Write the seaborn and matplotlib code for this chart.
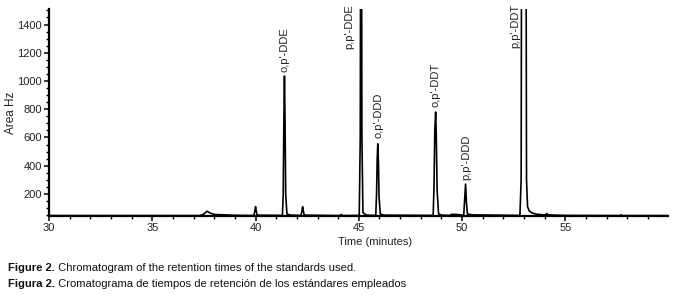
import matplotlib
matplotlib.use("Agg")
import matplotlib.pyplot as plt
from matplotlib.ticker import MultipleLocator, FixedLocator
import seaborn as sns
import pandas as pd

# ---- data (time in minutes, signal in Area Hz) ----
time_min = [30.0, 37.3, 37.5, 37.65, 37.8, 38.0, 38.5, 39.0, 39.5,
            39.92, 39.96, 40.0, 40.04, 40.08,
            41.30, 41.34, 41.37, 41.40, 41.43, 41.46, 41.52, 41.7,
            42.20, 42.24, 42.28, 42.32, 42.36,
            44.1, 44.15, 44.2,
            45.02, 45.07, 45.11, 45.15, 45.2, 45.3, 45.4,
            45.82, 45.86, 45.89, 45.92, 45.95, 45.98, 46.04, 46.2,
            48.60, 48.64, 48.68, 48.72, 48.75, 48.79, 48.86, 49.0,
            49.4, 49.5, 49.7, 49.9,
            50.08, 50.12, 50.17, 50.21, 50.26, 50.5,
            52.80, 52.86, 52.90, 53.07, 53.12, 53.17, 53.25, 53.4, 53.6, 53.9,
            54.05, 54.1, 54.15, 55.0,
            57.65, 57.7, 57.75, 60.0]
signal_hz = [47, 47, 58, 78, 65, 55, 52, 49, 48,
             48, 75, 110, 75, 50,
             48, 200, 700, 1035, 700, 200, 58, 50,
             48, 75, 110, 75, 50,
             47, 55, 47,
             48, 600, 4000, 600, 70, 55, 50,
             48, 200, 450, 555, 430, 180, 58, 50,
             48, 250, 650, 780, 620, 230, 60, 50,
             48, 56, 55, 52,
             50, 150, 270, 140, 58, 52,
             48, 300, 4000, 4000, 300, 110, 80, 65, 57, 52,
             52, 62, 52, 48,
             47, 52, 47, 47]

peak_names = ["o,p'-DDE", "p,p'-DDE", "o,p'-DDD", "o,p'-DDT", "p,p'-DDD", "p,p'-DDT"]
label_time = [41.42, 44.55, 45.93, 48.73, 50.18, 52.58]
label_level = [1065, 1225, 595, 815, 300, 1235]

x_major_ticks = [30, 35, 40, 45, 50, 55]
y_major_ticks = [200, 400, 600, 800, 1000, 1200, 1400]

caption_bold = ["Figure 2.", "Figura 2."]
caption_text = [" Chromatogram of the retention times of the standards used.",
                " Cromatograma de tiempos de retención de los estándares empleados"]

# ---- styling ----
sns.set_style("ticks")
FONT = ["Liberation Sans", "DejaVu Sans"]
plt.rcParams["font.family"] = FONT

fig = plt.figure(figsize=(6.73, 2.95), dpi=100)
ax = fig.add_axes([49 / 673, 1 - 216 / 295, 619 / 673, 207 / 295])

df = pd.DataFrame({"Time (minutes)": time_min, "Area Hz": signal_hz})
sns.lineplot(data=df, x="Time (minutes)", y="Area Hz", ax=ax,
             color="black", linewidth=1.2, estimator=None, sort=False)

ax.set_xlim(30, 59.97)
ax.set_ylim(44, 1510)

ax.xaxis.set_major_locator(FixedLocator(x_major_ticks))
ax.xaxis.set_minor_locator(MultipleLocator(1))
ax.yaxis.set_major_locator(FixedLocator(y_major_ticks))
ax.yaxis.set_minor_locator(MultipleLocator(50))

ax.tick_params(axis="both", which="major", length=3.5, width=1.1,
               labelsize=8, pad=1.5, color="black", labelcolor="#222222")
ax.tick_params(axis="both", which="minor", length=2, width=1.0, color="black")

for s in ["top", "right"]:
    ax.spines[s].set_visible(False)
for s in ["left", "bottom"]:
    ax.spines[s].set_linewidth(1.6)
    ax.spines[s].set_color("black")

ax.set_xlabel("Time (minutes)", fontsize=8, color="#222222", labelpad=2)
ax.xaxis.set_label_coords((375 - 49) / 619, -0.1)
ax.set_ylabel("Area Hz", fontsize=8.5, color="#222222", labelpad=2)
ax.yaxis.set_label_coords(-0.051, 0.5)

for name, t, lev in zip(peak_names, label_time, label_level):
    ax.text(t, lev, name, rotation=90, ha="center", va="bottom",
            fontsize=8, color="#222222", clip_on=False)

# ---- captions (bold lead + regular text) ----
renderer = fig.canvas.get_renderer()
cap_y = [1 - 268 / 295, 1 - 284 / 295]
for b, t, y in zip(caption_bold, caption_text, cap_y):
    tb = fig.text(8 / 673, y, b, fontsize=8.1, fontweight="bold",
                  va="center", ha="left", color="#111111")
    bb = tb.get_window_extent(renderer=renderer)
    fig.text(bb.x1 / fig.bbox.width, y, t, fontsize=8.1, va="center",
             ha="left", color="#111111")

fig.savefig("out.png", dpi=100)
